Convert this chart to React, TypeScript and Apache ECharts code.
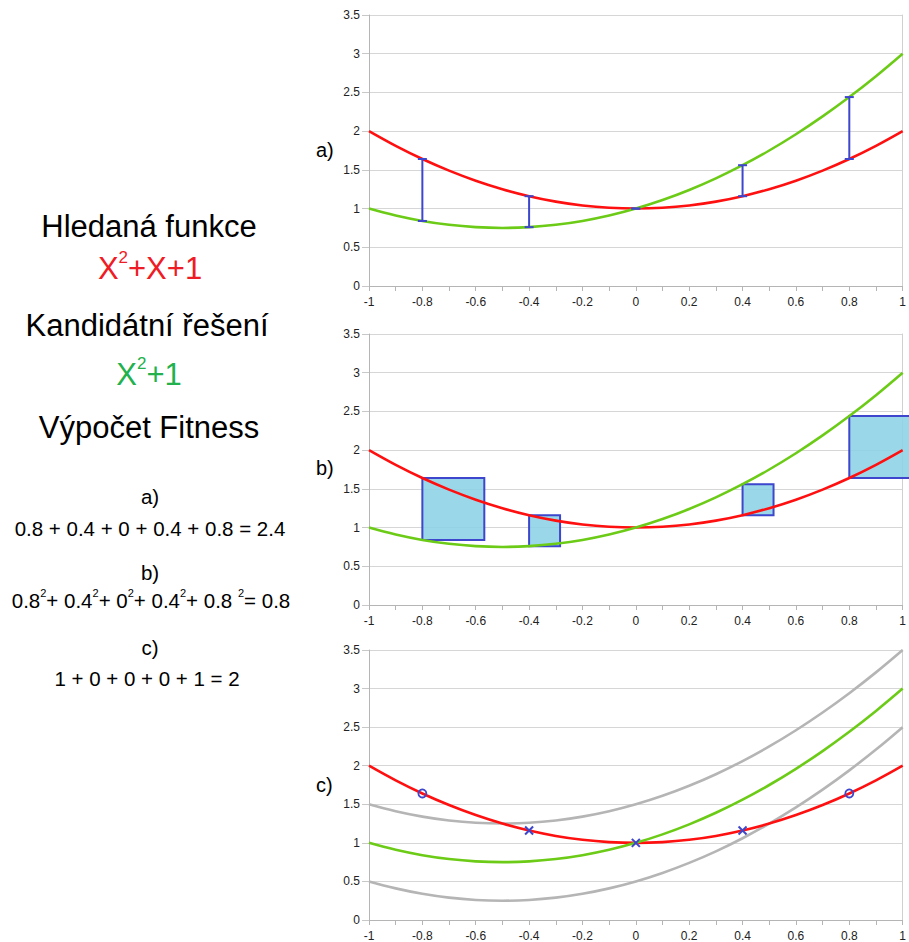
import { useEffect, useRef } from 'react';
import * as echarts from 'echarts';

// x positions of the plotted curve points
const xs = [-1, -0.9, -0.8, -0.7, -0.6, -0.5, -0.4, -0.3, -0.2, -0.1, 0, 0.1, 0.2, 0.3, 0.4, 0.5, 0.6, 0.7, 0.8, 0.9, 1];
// red curve
const redCurve = [2, 1.81, 1.64, 1.49, 1.36, 1.25, 1.16, 1.09, 1.04, 1.01, 1, 1.01, 1.04, 1.09, 1.16, 1.25, 1.36, 1.49, 1.64, 1.81, 2];
// green curve
const greenCurve = [1, 0.91, 0.84, 0.79, 0.76, 0.75, 0.76, 0.79, 0.84, 0.91, 1, 1.11, 1.24, 1.39, 1.56, 1.75, 1.96, 2.19, 2.44, 2.71, 3];
// gray curves in panel c
const grayUpper = [1.5, 1.41, 1.34, 1.29, 1.26, 1.25, 1.26, 1.29, 1.34, 1.41, 1.5, 1.61, 1.74, 1.89, 2.06, 2.25, 2.46, 2.69, 2.94, 3.21, 3.5];
const grayLower = [0.5, 0.41, 0.34, 0.29, 0.26, 0.25, 0.26, 0.29, 0.34, 0.41, 0.5, 0.61, 0.74, 0.89, 1.06, 1.25, 1.46, 1.69, 1.94, 2.21, 2.5];
// sample points
const sampleX = [-0.8, -0.4, 0, 0.4, 0.8];
const sampleRed = [1.64, 1.16, 1, 1.16, 1.64];
const sampleGreen = [0.84, 0.76, 1, 1.56, 2.44];
const sampleMarker = ['circle', 'cross', 'cross', 'cross', 'circle'];
const panelLabels = ['a)', 'b)', 'c)'];

const FONT = "'Liberation Sans', Arial, sans-serif";
const RED = '#ff1010';
const GREEN = '#6ccb16';
const GRAY = '#b5b5b5';
const BLUE = '#3d46cc';

export default function App() {
  const ref = useRef<HTMLDivElement>(null);
  useEffect(() => {
    if (!ref.current) return;
    const chart = echarts.init(ref.current, null, { renderer: 'svg' });
    const grids = [
      { left: 369, top: 15, width: 536, height: 271 },
      { left: 369, top: 334, width: 536, height: 271 },
      { left: 369, top: 650, width: 536, height: 271 },
    ];
    const xAxes: any[] = [];
    const yAxes: any[] = [];
    grids.forEach((_, i) => {
      xAxes.push({
        type: 'value', gridIndex: i, min: -1, max: 1, interval: 0.2,
        axisLine: { show: true, onZero: false, lineStyle: { color: GRAY, width: 1 } },
        axisTick: { show: true, length: 5, lineStyle: { color: GRAY } },
        minorTick: { show: true, splitNumber: 2, length: 5, lineStyle: { color: GRAY } },
        splitLine: { show: false },
        axisLabel: { fontFamily: FONT, fontSize: 12, color: '#222', margin: 10 },
      });
      yAxes.push({
        type: 'value', gridIndex: i, min: 0, max: 3.5, interval: 0.5,
        axisLine: { show: true, onZero: false, lineStyle: { color: GRAY, width: 1 } },
        axisTick: { show: true, length: 7, lineStyle: { color: '#c8c8c8' } },
        splitLine: { show: true, lineStyle: { color: '#d6d6d6', width: 1 } },
        axisLabel: { fontFamily: FONT, fontSize: 12, color: '#222', margin: 9 },
      });
      yAxes.push({
        type: 'value', gridIndex: i, min: 0, max: 3.5, interval: 0.5, position: 'right',
        axisLine: { show: true, onZero: false, lineStyle: { color: '#d0d0d0', width: 1 } },
        axisTick: { show: false }, splitLine: { show: false }, axisLabel: { show: false },
      });
    });
    const pts = (arr: number[]) => xs.map((x, i) => [x, arr[i]]);
    const lineSeries = (i: number, arr: number[], color: string, z = 3) => ({
      type: 'line', xAxisIndex: i, yAxisIndex: i * 2, data: pts(arr), smooth: 0.4,
      showSymbol: false, symbol: 'none', lineStyle: { color, width: 2.6 }, z,
    });
    const sampleData = sampleX.map((x, i) => [x, sampleRed[i], sampleGreen[i], i]);

    const series: any[] = [
      lineSeries(0, redCurve, RED),
      lineSeries(0, greenCurve, GREEN),
      {
        type: 'custom', xAxisIndex: 0, yAxisIndex: 0, data: sampleData, z: 5,
        renderItem: (_p: any, api: any) => {
          const x = api.value(0);
          const a = api.coord([x, api.value(1)]);
          const b = api.coord([x, api.value(2)]);
          const style = { stroke: BLUE, lineWidth: 2 };
          const cap = 4.5;
          return {
            type: 'group', children: [
              { type: 'line', shape: { x1: a[0], y1: a[1], x2: b[0], y2: b[1] }, style },
              { type: 'line', shape: { x1: a[0] - cap, y1: a[1], x2: a[0] + cap, y2: a[1] }, style },
              { type: 'line', shape: { x1: b[0] - cap, y1: b[1], x2: b[0] + cap, y2: b[1] }, style },
            ],
          };
        },
      },
      {
        type: 'custom', xAxisIndex: 1, yAxisIndex: 2, data: sampleData, z: 2,
        renderItem: (_p: any, api: any) => {
          const x = api.value(0);
          const a = api.coord([x, api.value(1)]);
          const b = api.coord([x, api.value(2)]);
          const top = Math.min(a[1], b[1]);
          const h = Math.abs(a[1] - b[1]);
          return {
            type: 'rect', shape: { x: a[0], y: top, width: h, height: h },
            style: { fill: 'rgba(140,210,230,0.88)', stroke: BLUE, lineWidth: 2 },
          };
        },
      },
      lineSeries(1, redCurve, RED),
      lineSeries(1, greenCurve, GREEN),
      lineSeries(2, grayUpper, GRAY),
      lineSeries(2, grayLower, GRAY),
      lineSeries(2, redCurve, RED),
      lineSeries(2, greenCurve, GREEN),
      {
        type: 'custom', xAxisIndex: 2, yAxisIndex: 4, data: sampleData, z: 6,
        renderItem: (_p: any, api: any) => {
          const x = api.value(0);
          const kind = sampleMarker[api.value(3)];
          const c = api.coord([x, api.value(1)]);
          if (kind === 'circle') {
            return { type: 'circle', shape: { cx: c[0], cy: c[1], r: 4 }, style: { fill: 'none', stroke: BLUE, lineWidth: 1.8 } };
          }
          const s = 4;
          const style = { stroke: BLUE, lineWidth: 2 };
          return {
            type: 'group', children: [
              { type: 'line', shape: { x1: c[0] - s, y1: c[1] - s, x2: c[0] + s, y2: c[1] + s }, style },
              { type: 'line', shape: { x1: c[0] - s, y1: c[1] + s, x2: c[0] + s, y2: c[1] - s }, style },
            ],
          };
        },
      },
    ];

    const big = 31;
    const small = 20.5;
    const t = (text: string, x: number, y: number, size: number, color = '#000', rich?: any) => ({
      type: 'text', x, y,
      style: { text, fontFamily: FONT, fontSize: size, fill: color, align: 'center', verticalAlign: 'middle', rich },
    });
    const bigRich = (color: string) => ({
      b: { fontFamily: FONT, fontSize: big, fill: color, color, lineHeight: 38, verticalAlign: 'middle' },
      s: { fontFamily: FONT, fontSize: 17, fill: color, color, lineHeight: 20, verticalAlign: 'top' },
    });
    const smallRich = {
      b: { fontFamily: FONT, fontSize: small, color: '#000', lineHeight: 26, verticalAlign: 'middle' },
      s: { fontFamily: FONT, fontSize: 11, color: '#000', lineHeight: 10, verticalAlign: 'top' },
    };

    const graphic: any[] = [
      t('Hledaná funkce', 149, 226, big),
      t('{b|X}{s|2}{b|+X+1}', 150, 268, big, '#ee1c24', bigRich('#ee1c24')),
      t('Kandidátní řešení', 147, 325, big),
      t('{b|X}{s|2}{b|+1}', 149, 374, big, '#22b14c', bigRich('#22b14c')),
      t('Výpočet Fitness', 149, 427, big),
      t('a)', 150, 496, small),
      t('0.8 + 0.4 + 0 + 0.4 + 0.8 = 2.4', 150, 528, small),
      t('b)', 150, 572, small),
      t('{b|0.8}{s|2}{b|+ 0.4}{s|2}{b|+ 0}{s|2}{b|+ 0.4}{s|2}{b|+ 0.8 }{s|2}{b|= 0.8}', 151, 600, small, '#000', smallRich),
      t('c)', 150, 647, small),
      t('1 + 0 + 0 + 0 + 1 = 2', 147, 678, small),
    ];
    const labelY = [150, 468, 785];
    panelLabels.forEach((l, i) => graphic.push({
      type: 'text', x: 316, y: labelY[i],
      style: { text: l, fontFamily: FONT, fontSize: 20, fill: '#000', align: 'left', verticalAlign: 'middle' },
    }));

    chart.setOption({
      animation: false,
      backgroundColor: '#fff',
      grid: grids,
      xAxis: xAxes,
      yAxis: yAxes,
      series,
      graphic,
    });
    return () => chart.dispose();
  }, []);
  return <div ref={ref} style={{ position: 'absolute', left: 0, top: 0, width: 909, height: 942 }} />;
}
